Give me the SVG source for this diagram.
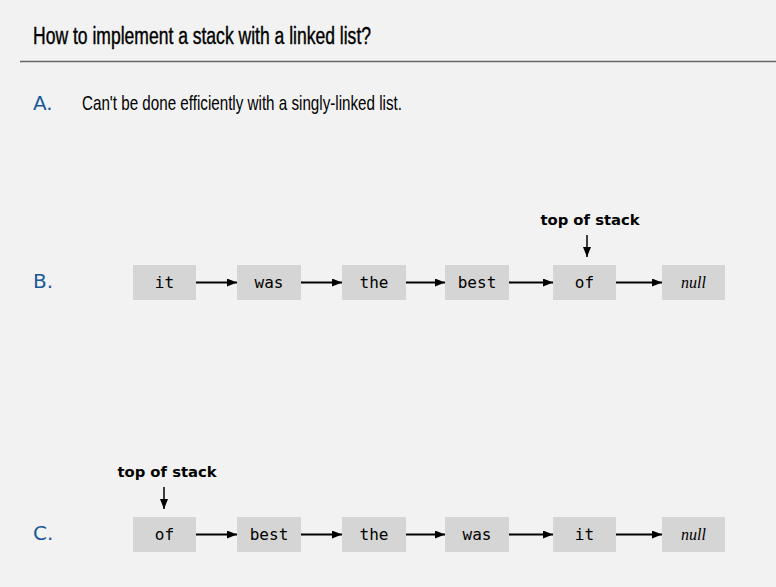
<svg xmlns="http://www.w3.org/2000/svg" width="776" height="587" viewBox="0 0 776 587">
<defs>
<marker id="ah" markerWidth="10" markerHeight="8" refX="10" refY="4" orient="auto" markerUnits="userSpaceOnUse">
<path d="M0,0 L10,4 L0,8 Z" fill="#000"/>
</marker>
<style>
.box{fill:#d5d5d5}
.mono{font-family:"DejaVu Sans Mono","Liberation Mono",monospace;font-size:16px;fill:#000;text-anchor:middle}
.nul{font-family:"Liberation Serif",serif;font-style:italic;font-size:16px;fill:#000;text-anchor:middle}
.lbl{font-family:"DejaVu Sans","Liberation Sans",sans-serif;font-size:20px;fill:#1a5a99}
.tos{font-family:"DejaVu Sans","Liberation Sans",sans-serif;font-weight:bold;font-size:14.8px;fill:#000;text-anchor:middle}
.ln{stroke:#000;stroke-width:2;fill:none}
.dn{stroke:#000;stroke-width:1.5;fill:none}
</style>
</defs>
<rect width="776" height="587" fill="#f2f2f2"/>
<text x="33" y="44" font-family="'Liberation Sans',sans-serif" font-size="23" fill="#000" stroke="#000" stroke-width="0.4" textLength="338" lengthAdjust="spacingAndGlyphs">How to implement a stack with a linked list?</text>
<line x1="20" y1="61.5" x2="776" y2="61.5" stroke="#666" stroke-width="1.5"/>
<text x="33" y="110" class="lbl">A.</text>
<text x="82" y="110" font-family="'Liberation Sans',sans-serif" font-size="21" fill="#000" textLength="320" lengthAdjust="spacingAndGlyphs">Can't be done efficiently with a singly-linked list.</text>
<text x="33" y="288" class="lbl">B.</text>
<text x="33" y="540" class="lbl">C.</text>

<g id="b-it"><rect class="box" x="133" y="265" width="63" height="35"/><text class="mono" x="164.5" y="287.5">it</text></g>
<g id="b-was"><rect class="box" x="237" y="265" width="64" height="35"/><text class="mono" x="269" y="287.5">was</text></g>
<g id="b-the"><rect class="box" x="342" y="265" width="64" height="35"/><text class="mono" x="374" y="287.5">the</text></g>
<g id="b-best"><rect class="box" x="445" y="265" width="64" height="35"/><text class="mono" x="477" y="287.5">best</text></g>
<g id="b-of"><rect class="box" x="553" y="265" width="63" height="35"/><text class="mono" x="584.5" y="287.5">of</text></g>
<g id="b-null"><rect class="box" x="662" y="265" width="63" height="35"/><text class="nul" x="693.5" y="288">null</text></g>
<g id="b-top"><text class="tos" x="590" y="225">top of stack</text></g>

<g id="c-of"><rect class="box" x="133" y="517" width="63" height="35"/><text class="mono" x="164.5" y="539.5">of</text></g>
<g id="c-best"><rect class="box" x="237" y="517" width="64" height="35"/><text class="mono" x="269" y="539.5">best</text></g>
<g id="c-the"><rect class="box" x="342" y="517" width="64" height="35"/><text class="mono" x="374" y="539.5">the</text></g>
<g id="c-was"><rect class="box" x="445" y="517" width="64" height="35"/><text class="mono" x="477" y="539.5">was</text></g>
<g id="c-it"><rect class="box" x="553" y="517" width="63" height="35"/><text class="mono" x="584.5" y="539.5">it</text></g>
<g id="c-null"><rect class="box" x="662" y="517" width="63" height="35"/><text class="nul" x="693.5" y="540">null</text></g>
<g id="c-top"><text class="tos" x="167" y="477">top of stack</text></g>

<g id="connectors">
<line class="ln" x1="196" y1="282.5" x2="237" y2="282.5" marker-end="url(#ah)"/>
<line class="ln" x1="301" y1="282.5" x2="342" y2="282.5" marker-end="url(#ah)"/>
<line class="ln" x1="406" y1="282.5" x2="445" y2="282.5" marker-end="url(#ah)"/>
<line class="ln" x1="509" y1="282.5" x2="553" y2="282.5" marker-end="url(#ah)"/>
<line class="ln" x1="616" y1="282.5" x2="662" y2="282.5" marker-end="url(#ah)"/>
<line class="dn" x1="587" y1="235" x2="587" y2="257" marker-end="url(#ah)"/>
<line class="ln" x1="196" y1="534.5" x2="237" y2="534.5" marker-end="url(#ah)"/>
<line class="ln" x1="301" y1="534.5" x2="342" y2="534.5" marker-end="url(#ah)"/>
<line class="ln" x1="406" y1="534.5" x2="445" y2="534.5" marker-end="url(#ah)"/>
<line class="ln" x1="509" y1="534.5" x2="553" y2="534.5" marker-end="url(#ah)"/>
<line class="ln" x1="616" y1="534.5" x2="662" y2="534.5" marker-end="url(#ah)"/>
<line class="dn" x1="164" y1="487" x2="164" y2="509" marker-end="url(#ah)"/>
</g>
</svg>
